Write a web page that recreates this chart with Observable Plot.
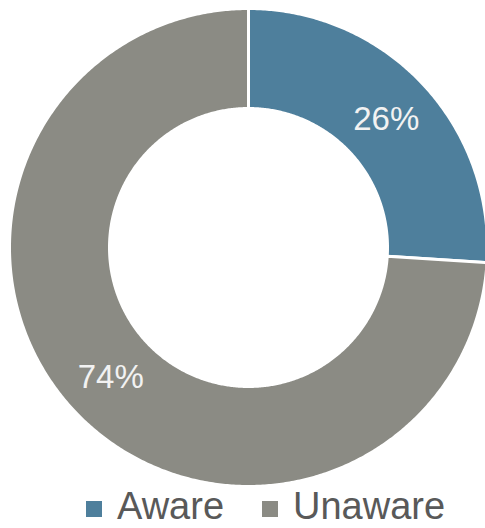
<!DOCTYPE html>
<html>
<head>
<meta charset="utf-8">
<script src="https://cdn.jsdelivr.net/npm/d3@7"></script>
<script src="https://cdn.jsdelivr.net/npm/@observablehq/plot@0.6"></script>
<style>
  html, body { margin: 0; padding: 0; background: #fff; }
  #chart { width: 485px; height: 528px; position: relative; overflow: hidden; }
  #legend { position: absolute; left: 0; top: 484px; width: 485px; font-family: "Liberation Sans", Arial, sans-serif; font-size: 38px; color: #595959; white-space: nowrap; }
  .item { position: absolute; top: 0; line-height: 44px; }
  .sw { display: inline-block; width: 16px; height: 16px; margin-right: 15px; vertical-align: 2px; }
</style>
</head>
<body>
<div id="chart"></div>
<script>
const categories = ["Aware", "Unaware"];
const values = [26, 74];
const labels = ["26%", "74%"];
const colors = ["#4e7f9c", "#8b8b84"];

const W = 485, H = 490;
const cx = 248, cy = 247, rOuter = 239, rInner = 139;

const pie = d3.pie().sort(null).value(d => d.value)(categories.map((c, i) => ({category: c, value: values[i], label: labels[i]})));

const poly = [];
for (const p of pie) {
  const n = Math.max(8, Math.ceil((p.endAngle - p.startAngle) / (Math.PI / 360)));
  for (let k = 0; k <= n; k++) {
    const a = p.startAngle + (p.endAngle - p.startAngle) * k / n;
    poly.push({category: p.data.category, x: cx + rOuter * Math.sin(a), y: cy - rOuter * Math.cos(a)});
  }
  for (let k = n; k >= 0; k--) {
    const a = p.startAngle + (p.endAngle - p.startAngle) * k / n;
    poly.push({category: p.data.category, x: cx + rInner * Math.sin(a), y: cy - rInner * Math.cos(a)});
  }
}
const rMid = (rOuter + rInner) / 2;
const centroids = pie.map(p => {
  const a = (p.startAngle + p.endAngle) / 2;
  return {label: p.data.label, x: cx + rMid * Math.sin(a), y: cy - rMid * Math.cos(a)};
});

const plot = Plot.plot({
  width: W, height: H,
  margin: 0,
  x: {domain: [0, W], range: [0, W], axis: null},
  y: {domain: [0, H], range: [0, H], axis: null},
  color: {domain: categories, range: colors},
  style: {background: "#fff"},
  marks: [
    Plot.line(poly, {x: "x", y: "y", z: "category", fill: "category", stroke: "#fff", strokeWidth: 3, curve: "linear-closed"}),
    Plot.text(centroids, {x: "x", y: "y", text: "label", fill: "#f2f2f2", fontSize: 33, fontFamily: "Liberation Sans, Arial, sans-serif", dy: 1})
  ]
});
document.getElementById("chart").appendChild(plot);

const legend = document.createElement("div");
legend.id = "legend";
const lx = [86, 262];
categories.forEach((c, i) => {
  const it = document.createElement("div");
  it.className = "item";
  it.style.left = lx[i] + "px";
  it.innerHTML = `<span class="sw" style="background:${colors[i]}"></span>${c}`;
  legend.appendChild(it);
});
document.getElementById("chart").appendChild(legend);
</script>
</body>
</html>
